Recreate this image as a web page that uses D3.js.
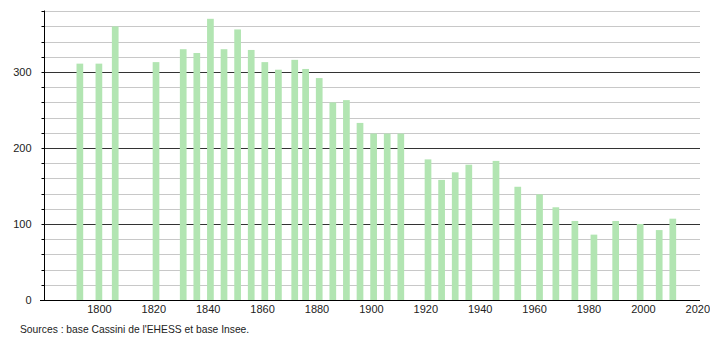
<!DOCTYPE html>
<html><head><meta charset="utf-8">
<script src="https://cdn.jsdelivr.net/npm/d3@7"></script>
<style>body{margin:0;background:#fff}text{font-family:"Liberation Sans",Arial,sans-serif}</style>
</head><body><svg id="c" width="710" height="340"></svg>
<script>
const years = [1793,1800,1806,1821,1831,1836,1841,1846,1851,1856,1861,1866,1872,1876,1881,1886,1891,1896,1901,1906,1911,1921,1926,1931,1936,1946,1954,1962,1968,1975,1982,1990,1999,2006,2011];
const population = [311,311,360,313,330,325,370,330,356,329,313,303,316,304,292,260,263,233,219,219,219,185,158,168,178,183,149,139,122,104,86,104,100,92,107];
const xTickLabels = [1800,1820,1840,1860,1880,1900,1920,1940,1960,1980,2000,2020];
const yMajorTicks = [0,100,200,300];
const yMinorTicks = d3.range(0, 381, 20);
const sourceText = "Sources : base Cassini de l'EHESS et base Insee.";

(function () {
const svg = d3.select("#c");
const mL = 44.5, mR = 700, mT = 10.5, mB = 300;
const x = d3.scaleLinear().domain([1780, 2021]).range([mL, mR]);
const y = d3.scaleLinear().domain([0, 380]).range([mB, 11.2]);
const py = d => Math.round(y(d)) + 0.5;

// gridlines
svg.append("g").selectAll("line").data(yMinorTicks.filter(d => d > 0)).join("line")
  .attr("x1", mL).attr("x2", mR)
  .attr("y1", py).attr("y2", py)
  .attr("stroke", d => d % 100 === 0 ? "#333" : "#c8c8c8")
  .attr("stroke-width", 1);

// bars
const bw = 6.7;
svg.append("g").selectAll("rect").data(years).join("rect")
  .attr("x", (d) => x(d) - bw / 2)
  .attr("width", bw)
  .attr("y", (d, i) => y(population[i]))
  .attr("height", (d, i) => y(0) - y(population[i]))
  .attr("fill", "#b2e5b2");

// y axis
const yAxis = d3.axisLeft(y).tickValues(yMinorTicks).tickSize(3)
  .tickFormat(d => yMajorTicks.includes(d) ? d : "");
const gy = svg.append("g").attr("transform", `translate(${mL},0)`).call(yAxis);
gy.select(".domain").attr("stroke", "#000").attr("d", `M0,${mT}V${mB + 0.5}`);
gy.selectAll(".tick").attr("transform", d => `translate(0,${py(d)})`);
gy.selectAll(".tick line").attr("stroke", "#000");
gy.selectAll(".tick text").attr("x", -13).attr("font-size", 11).attr("fill", "#222").attr("font-family", "Liberation Sans, Arial, sans-serif");

// x axis
const xAxis = d3.axisBottom(x).tickValues(xTickLabels).tickSize(0).tickFormat(d3.format("d"));
const gx = svg.append("g").attr("transform", `translate(0,${mB + 0.5})`).call(xAxis);
gx.select(".domain").attr("stroke", "#000").attr("d", `M40,0H${mR}`);
gx.selectAll(".tick text").attr("dy", "0.71em").attr("y", 4.5).attr("font-size", 11).attr("fill", "#222").attr("font-family", "Liberation Sans, Arial, sans-serif");

// source
svg.append("text").attr("x", 20).attr("y", 333).attr("font-size", 10.3).attr("fill", "#222").text(sourceText);
})();
</script></body></html>
